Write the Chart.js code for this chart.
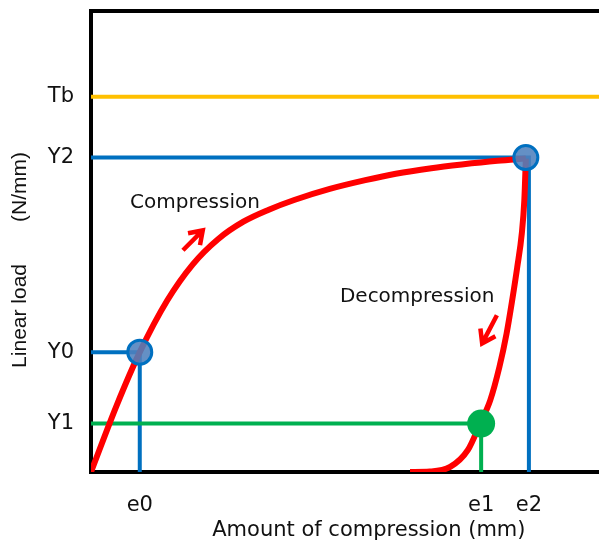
<!DOCTYPE html>
<html lang="en">
<head>
<meta charset="UTF-8">
<title>Linear load vs amount of compression</title>
<script src="https://cdn.jsdelivr.net/npm/chart.js"></script>
<style>
  html, body { margin: 0; padding: 0; background: #fff; }
  .chart-box { width: 599px; height: 544px; }
</style>
</head>
<body>
<div class="chart-box"><canvas id="myChart"></canvas></div>
<script>
// levels, axis units 0-100
const yLevels = [10.5, 26.0, 68.2, 81.4];
const yLabels = ['Y1', 'Y0', 'Y2', 'Tb'];
const xLevels = [9.6, 76.8, 86.2];
const xLabels = ['e0', 'e1', 'e2'];

// load curve: loading branch, then unloading branch
const compX = [0, 5, 9.6, 15, 20, 25, 30, 35, 40, 47, 54, 60, 67, 73, 80, 85.6];
const compY = [0, 14.3, 26.0, 37.2, 45.0, 50.5, 54.3, 56.9, 59.0, 61.4, 63.3, 64.7, 65.9, 66.7, 67.5, 68.0];
const decompX = [85.6, 85.3, 84.8, 83.9, 82.9, 81.8, 80.4, 78.6, 76.6, 74.2, 70.7, 66.7, 62.8];
const decompY = [68.0, 58.9, 51.7, 44.4, 37.2, 30.0, 22.8, 15.6, 10.5, 4.8, 1.1, 0.1, 0];

// direction arrows [tailX, tailY, tipX, tipY]
const arrows = [
    [18.1, 48.1, 22.0, 52.4],
    [79.9, 34.0, 77.0, 27.9]
];
// notes [text, x, y]
const notes = [
    ['Compression', 7.7, 58.4],
    ['Decompression', 49.0, 37.9]
];

const [Y1, Y0, Y2, Tb] = yLevels;
const [e0, e1, e2] = xLevels;
const pts = (xs, ys) => xs.map((x, i) => ({ x, y: ys[i] }));

const BLUE = '#0070C0', GREEN = '#00B050', RED = '#FF0000', GOLD = '#FFC000';
const TXT = '#111';

const noPad = s => { s.paddingTop = s.paddingBottom = s.paddingLeft = s.paddingRight = 0; };

const notesPlugin = {
    id: 'notes',
    afterDatasetsDraw(chart) {
        const { ctx, chartArea: a, scales: { x, y } } = chart;
        ctx.save();
        // arrows
        ctx.strokeStyle = RED;
        ctx.lineWidth = 4.5;
        arrows.forEach(([x1, y1, x2, y2]) => {
            const px1 = x.getPixelForValue(x1), py1 = y.getPixelForValue(y1);
            const px2 = x.getPixelForValue(x2), py2 = y.getPixelForValue(y2);
            const ang = Math.atan2(py2 - py1, px2 - px1);
            ctx.beginPath();
            ctx.moveTo(px1, py1);
            ctx.lineTo(px2, py2);
            ctx.moveTo(px2 - 15 * Math.cos(ang - 0.6), py2 - 15 * Math.sin(ang - 0.6));
            ctx.lineTo(px2, py2);
            ctx.lineTo(px2 - 15 * Math.cos(ang + 0.6), py2 - 15 * Math.sin(ang + 0.6));
            ctx.stroke();
        });
        // notes
        ctx.fillStyle = TXT;
        ctx.font = '20px "DejaVu Sans"';
        ctx.textAlign = 'left';
        ctx.textBaseline = 'middle';
        notes.forEach(([t, nx, ny]) => {
            ctx.fillText(t, x.getPixelForValue(nx), y.getPixelForValue(ny));
        });
        // axis titles
        ctx.textAlign = 'center';
        ctx.font = '21px "DejaVu Sans"';
        ctx.fillText('Amount of compression (mm)', a.left + (a.right - a.left) * 0.547, a.bottom + 59);
        ctx.translate(20, a.top + (a.bottom - a.top) * 0.54);
        ctx.rotate(-Math.PI / 2);
        ctx.font = '21px "Liberation Sans"';
        ctx.fillText('Linear load\u3000\u3000(N/mm)', 0, 0);
        ctx.restore();
    }
};

const ctx = document.getElementById('myChart').getContext('2d');
new Chart(ctx, {
    type: 'line',
    data: {
        datasets: [
            // first dataset is drawn on top
            { data: pts([e1], [Y1]), showLine: false, pointRadius: 14, pointBackgroundColor: GREEN, pointBorderWidth: 0 },
            { data: pts([e0, 85.6], [Y0, Y2]), showLine: false, pointRadius: 12,
              pointBackgroundColor: 'rgba(79,129,189,0.88)', pointBorderColor: BLUE, pointBorderWidth: 3 },
            { data: pts(compX, compY), borderColor: RED, borderWidth: 6, pointRadius: 0, cubicInterpolationMode: 'monotone' },
            { data: pts(decompX, decompY), borderColor: RED, borderWidth: 6, pointRadius: 0, cubicInterpolationMode: 'monotone' },
            { data: pts([0, e1, e1], [Y1, Y1, 0]), borderColor: GREEN, borderWidth: 4, pointRadius: 0 },
            { data: pts([0, e0, e0], [Y0, Y0, 0]), borderColor: BLUE, borderWidth: 4, pointRadius: 0 },
            { data: pts([0, e2, e2], [Y2, Y2, 0]), borderColor: BLUE, borderWidth: 4, pointRadius: 0 },
            { data: pts([0, 100], [Tb, Tb]), borderColor: GOLD, borderWidth: 4, pointRadius: 0 }
        ]
    },
    options: {
        responsive: true,
        maintainAspectRatio: false,
        animation: false,
        events: [],
        layout: { padding: 0, autoPadding: false },
        plugins: { legend: { display: false }, tooltip: { enabled: false } },
        scales: {
            x: {
                type: 'linear', min: 0, max: 100,
                grid: { drawOnChartArea: false, drawTicks: false },
                border: { color: '#000', width: 4 },
                afterBuildTicks: s => { s.ticks = xLevels.map(v => ({ value: v })); },
                afterFit: s => { s.height = 72; noPad(s); },
                ticks: {
                    autoSkip: false, maxRotation: 0, padding: 21, color: TXT,
                    font: { family: 'DejaVu Sans', size: 21 },
                    callback: v => xLabels[xLevels.indexOf(v)]
                }
            },
            top: {
                type: 'linear', position: 'top', min: 0, max: 100,
                grid: { drawOnChartArea: false, drawTicks: false },
                border: { color: '#000', width: 4 },
                ticks: { display: false },
                afterFit: s => { s.height = 11; noPad(s); }
            },
            y: {
                type: 'linear', min: 0, max: 100,
                grid: { drawOnChartArea: false, drawTicks: false },
                border: { color: '#000', width: 4 },
                afterBuildTicks: s => { s.ticks = yLevels.map(v => ({ value: v })); },
                afterFit: s => { s.width = 91; noPad(s); },
                ticks: {
                    autoSkip: false, padding: 17, color: TXT,
                    font: { family: 'DejaVu Sans', size: 21 },
                    callback: v => yLabels[yLevels.indexOf(v)]
                }
            }
        }
    },
    plugins: [notesPlugin]
});
</script>
</body>
</html>
